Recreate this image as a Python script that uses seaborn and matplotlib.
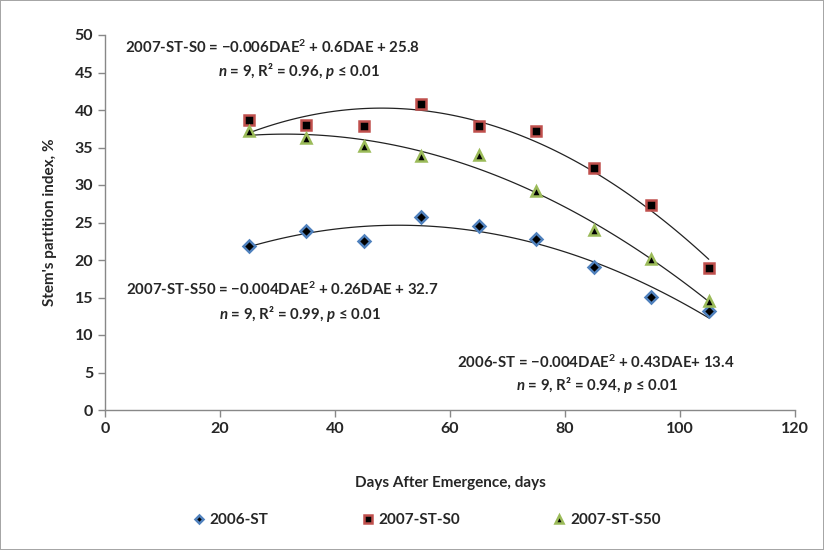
import numpy as np
import pandas as pd
import matplotlib
matplotlib.use('Agg')
import matplotlib.pyplot as plt
import seaborn as sns

# days after emergence
dae = [25, 35, 45, 55, 65, 75, 85, 95, 105]
# stem partition index, %
st_2006 = [21.9, 23.9, 22.6, 25.7, 24.5, 22.8, 19.1, 15.1, 13.2]
st_s0_2007 = [38.7, 38.0, 37.9, 40.8, 37.9, 37.2, 32.2, 27.3, 18.9]
st_s50_2007 = [37.2, 36.3, 35.2, 33.9, 34.0, 29.2, 24.0, 20.1, 14.6]
series_names = ['2006-ST', '2007-ST-S0', '2007-ST-S50']

sns.set_style('white')
plt.rcParams['font.family'] = ['Lato', 'DejaVu Sans']
plt.rcParams['font.weight'] = 'bold'
plt.rcParams['mathtext.fontset'] = 'custom'
plt.rcParams['mathtext.rm'] = 'Lato:bold'
plt.rcParams['mathtext.it'] = 'Lato:bold:italic'

df = pd.DataFrame({'DAE': dae * 3,
                   'index': st_2006 + st_s0_2007 + st_s50_2007,
                   'series': np.repeat(series_names, len(dae))})

fig = plt.figure(figsize=(8.24, 5.5), dpi=100)
fig.patch.set_edgecolor('#a6a6a6')
fig.patch.set_linewidth(1.2)
ax = fig.add_axes([105/824, 1-410/550, 690/824, 375/550])

styles = {'2006-ST': ('D', '#4f81bd', 6.0),
          '2007-ST-S0': ('s', '#c0504d', 7.5),
          '2007-ST-S50': ('^', '#9bbb59', 7.5)}

# quadratic trend lines
for name in series_names:
    sub = df[df.series == name]
    sns.regplot(data=sub, x='DAE', y='index', order=2, ci=None, scatter=False,
                line_kws={'color': '#222222', 'lw': 0.9}, ax=ax)

for name in series_names:
    sub = df[df.series == name]
    m, ec, s = styles[name]
    ax.plot(sub.DAE, sub['index'], linestyle='none', marker=m, markersize=s,
            markerfacecolor='black', markeredgecolor=ec, markeredgewidth=1.8,
            label=name, zorder=3)

ax.set_xlim(0, 120)
ax.set_ylim(0, 50)
ax.set_xticks(range(0, 121, 20))
ax.set_yticks(range(0, 51, 5))
ax.tick_params(axis='both', labelsize=11.5, direction='out', length=5,
               color='#888888', width=1, bottom=True, left=True)
for lab in ax.get_xticklabels() + ax.get_yticklabels():
    lab.set_fontweight('bold')
sns.despine(ax=ax)
for sp in ['left', 'bottom']:
    ax.spines[sp].set_color('#888888')
    ax.spines[sp].set_linewidth(1)

ax.set_xlabel('Days After Emergence, days', fontsize=11, fontweight='bold', labelpad=29)
ax.set_ylabel("Stem's partition index, %", fontsize=11, fontweight='bold', labelpad=13)

def note(x, y, s):
    fig.text(x/824, 1-y/550, s, ha='center', va='center', fontsize=10.8, fontweight='bold')

note(272, 47, r'2007-ST-S0 = $-$0.006DAE$^{2}$ + 0.6DAE + 25.8')
note(299, 71, r'$\it{n}$ = 9, R² = 0.96, $\it{p}$ ≤ 0.01')
note(282, 289, r'2007-ST-S50 = $-$0.004DAE$^{2}$ + 0.26DAE + 32.7')
note(300, 314, r'$\it{n}$ = 9, R² = 0.99, $\it{p}$ ≤ 0.01')
note(596, 362, r'2006-ST = $-$0.004DAE$^{2}$ + 0.43DAE+ 13.4')
note(597, 385, r'$\it{n}$ = 9, R² = 0.94, $\it{p}$ ≤ 0.01')

handles, labels = ax.get_legend_handles_labels()
leg = fig.legend(handles, labels, loc='center', bbox_to_anchor=(426/824, 1-520/550),
                 ncol=3, frameon=False, fontsize=11, columnspacing=6.0,
                 handletextpad=0.2, handlelength=1.0, markerscale=0.75)

fig.savefig('out.png', dpi=100, edgecolor=fig.get_edgecolor())
